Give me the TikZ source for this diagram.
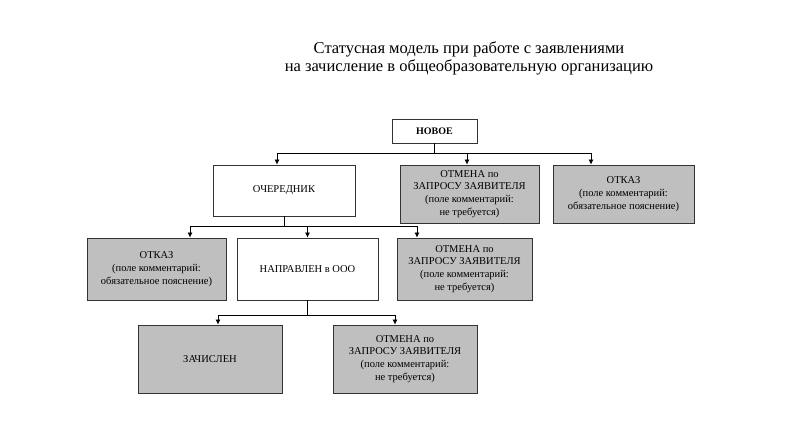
\documentclass[tikz,border=0pt]{standalone}
\usepackage{fontspec}
\setmainfont{Liberation Serif}
\usetikzlibrary{arrows.meta}
\tikzset{
  box/.style={draw=black!80, line width=0.8pt, align=center, inner sep=2pt,
    minimum width=141pt, minimum height=62pt, font=\fontsize{10.5}{12.8}\selectfont},
  grey/.style={box, fill=black!25},
  link/.style={line width=0.8pt, -{Latex[length=5pt,width=5pt]}},
}
\begin{document}
\begin{tikzpicture}[x=1pt, y=-1pt, node distance=154pt]
\useasboundingbox (0,0) rectangle (812,438);
\node[align=center, inner sep=0pt, font=\fontsize{16.5}{18.5}\selectfont] (T) at (469,58.5)
  {Статусная модель при работе с заявлениями\\на зачисление в общеобразовательную организацию};
% first level
\node[box, minimum width=85pt, minimum height=24pt, font=\fontsize{10}{12}\selectfont\bfseries] (N) at (434.5,131) {НОВОЕ};
\node[box, minimum width=142pt, minimum height=51pt, below of=N, node distance=59.5pt, xshift=-150.5pt] (Q) {ОЧЕРЕДНИК};
\node[grey, minimum width=139pt, minimum height=58pt, right of=Q, node distance=185.5pt, yshift=-3.5pt] (C1)
  {ОТМЕНА по\\ЗАПРОСУ ЗАЯВИТЕЛЯ\\(поле комментарий:\\не требуется)};
\node[grey, minimum height=58pt, right of=C1] (R1) {ОТКАЗ\\(поле комментарий:\\обязательное пояснение)};
% second level
\node[box, below of=Q, node distance=78.5pt, xshift=23.5pt] (D) {НАПРАВЛЕН в ООО};
\node[grey, minimum width=139pt, left of=D, node distance=151pt] (R2) {ОТКАЗ\\(поле комментарий:\\обязательное пояснение)};
\node[grey, minimum width=135pt, right of=D, node distance=157pt] (C2)
  {ОТМЕНА по\\ЗАПРОСУ ЗАЯВИТЕЛЯ\\(поле комментарий:\\не требуется)};
% third level
\node[grey, minimum width=144pt, minimum height=68pt, below of=D, node distance=90pt, xshift=-97.5pt] (Z) {ЗАЧИСЛЕН};
\node[grey, minimum width=144pt, minimum height=68pt, right of=Z, node distance=195pt] (C3)
  {ОТМЕНА по\\ЗАПРОСУ ЗАЯВИТЕЛЯ\\(поле комментарий:\\не требуется)};
% connectors
\draw[link] (N.south) -- ++(0,10) -| ([xshift=-7pt]Q.north);
\draw[link] (N.south) -- ++(0,10) -| ([xshift=-2.5pt]C1.north);
\draw[link] (N.south) -- ++(0,10) -| ([xshift=-32.5pt]R1.north);
\draw[link] (Q.south) -- ++(0,10) -| ([xshift=33.5pt]R2.north);
\draw[link] (Q.south) -- ++(0,10) -| (D.north);
\draw[link] (Q.south) -- ++(0,10) -| ([xshift=-47.5pt]C2.north);
\draw[link] (D.south) -- ++(0,15) -| ([xshift=8pt]Z.north);
\draw[link] (D.south) -- ++(0,15) -| ([xshift=-10pt]C3.north);
\end{tikzpicture}
\end{document}
